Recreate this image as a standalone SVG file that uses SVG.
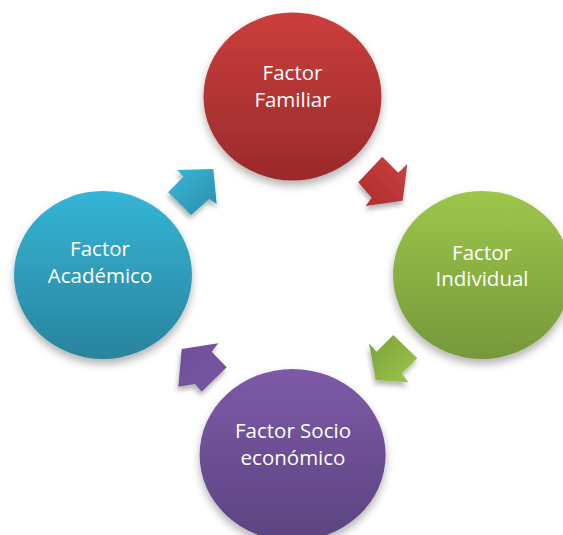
<svg xmlns="http://www.w3.org/2000/svg" width="563" height="535" viewBox="0 0 563 535">
  <defs>
    <filter id="sh" x="-20%" y="-20%" width="140%" height="150%">
      <feDropShadow dx="0" dy="5" stdDeviation="4" flood-color="#000" flood-opacity="0.3"/>
    </filter>
    <filter id="ash" x="-30%" y="-30%" width="160%" height="170%">
      <feDropShadow dx="-1" dy="4" stdDeviation="2.5" flood-color="#000" flood-opacity="0.3"/>
    </filter>
    <linearGradient id="gRed" x1="0" y1="0" x2="0" y2="1">
      <stop offset="0" stop-color="#cb3e3c"/>
      <stop offset="1" stop-color="#9a2a2b"/>
    </linearGradient>
    <linearGradient id="gGreen" x1="0" y1="0" x2="0" y2="1">
      <stop offset="0" stop-color="#9dc64b"/>
      <stop offset="1" stop-color="#76983a"/>
    </linearGradient>
    <linearGradient id="gPurple" x1="0" y1="0" x2="0" y2="1">
      <stop offset="0" stop-color="#7d5aa7"/>
      <stop offset="1" stop-color="#5c4380"/>
    </linearGradient>
    <linearGradient id="gTeal" x1="0" y1="0" x2="0" y2="1">
      <stop offset="0" stop-color="#35b5d6"/>
      <stop offset="1" stop-color="#29839d"/>
    </linearGradient>
    <linearGradient id="aRed" x1="1" y1="0" x2="0" y2="1">
      <stop offset="0" stop-color="#cc4040"/>
      <stop offset="1" stop-color="#ab2d2e"/>
    </linearGradient>
    <linearGradient id="aGreen" x1="0" y1="0" x2="1" y2="1">
      <stop offset="0" stop-color="#7aa03a"/>
      <stop offset="1" stop-color="#9dc64b"/>
    </linearGradient>
    <linearGradient id="aPurple" x1="0" y1="0" x2="1" y2="1">
      <stop offset="0" stop-color="#6e4f98"/>
      <stop offset="1" stop-color="#7956a3"/>
    </linearGradient>
    <linearGradient id="aTeal" x1="0" y1="0" x2="1" y2="1">
      <stop offset="0" stop-color="#38b7d8"/>
      <stop offset="1" stop-color="#2a8eab"/>
    </linearGradient>
  </defs>
  <style>
    .lbl { font-family: "Open Sans", "Liberation Sans", sans-serif; font-size: 20.5px; fill: #ffffff; text-anchor: middle; }
    .node { filter: url(#sh); }
    .arr { filter: url(#ash); }
  </style>
  <rect width="563" height="535" fill="#ffffff"/>

  <g id="connectors">
    <polygon class="arr" fill="url(#aRed)" points="382.3,156.7 398.3,172.7 407.3,164 402.7,200.7 365.7,206 371.7,197.7 358.3,182.3"/>
    <polygon class="arr" fill="url(#aGreen)" points="393.3,335 417.3,358.3 401.7,373.3 408.3,382.3 375.7,380 369,343.3 376.7,351.7"/>
    <polygon class="arr" fill="url(#aPurple)" points="226.7,367.3 201.7,391.7 195,384 178.3,386.7 181.7,349 218.3,343.3 211.7,351.7"/>
    <polygon class="arr" fill="url(#aTeal)" points="191,215 168.3,192.3 183.3,176.7 177.3,170 213.3,169 216.7,204 209.3,199"/>
  </g>

  <g id="node-familiar">
    <ellipse class="node" cx="292.5" cy="96.5" rx="89" ry="84" fill="url(#gRed)"/>
    <text class="lbl" x="292.5" y="80">Factor</text>
    <text class="lbl" x="292.5" y="106.5">Familiar</text>
  </g>
  <g id="node-individual">
    <ellipse class="node" cx="482" cy="275" rx="89" ry="84" fill="url(#gGreen)"/>
    <text class="lbl" x="482" y="260">Factor</text>
    <text class="lbl" x="482" y="286">Individual</text>
  </g>
  <g id="node-socio">
    <ellipse class="node" cx="292.6" cy="455" rx="93" ry="86" fill="url(#gPurple)"/>
    <text class="lbl" x="293" y="437.5">Factor Socio</text>
    <text class="lbl" x="293" y="464.5">económico</text>
  </g>
  <g id="node-academico">
    <ellipse class="node" cx="103" cy="275" rx="89" ry="84" fill="url(#gTeal)"/>
    <text class="lbl" x="100" y="256">Factor</text>
    <text class="lbl" x="100" y="282.5">Académico</text>
  </g>
</svg>
